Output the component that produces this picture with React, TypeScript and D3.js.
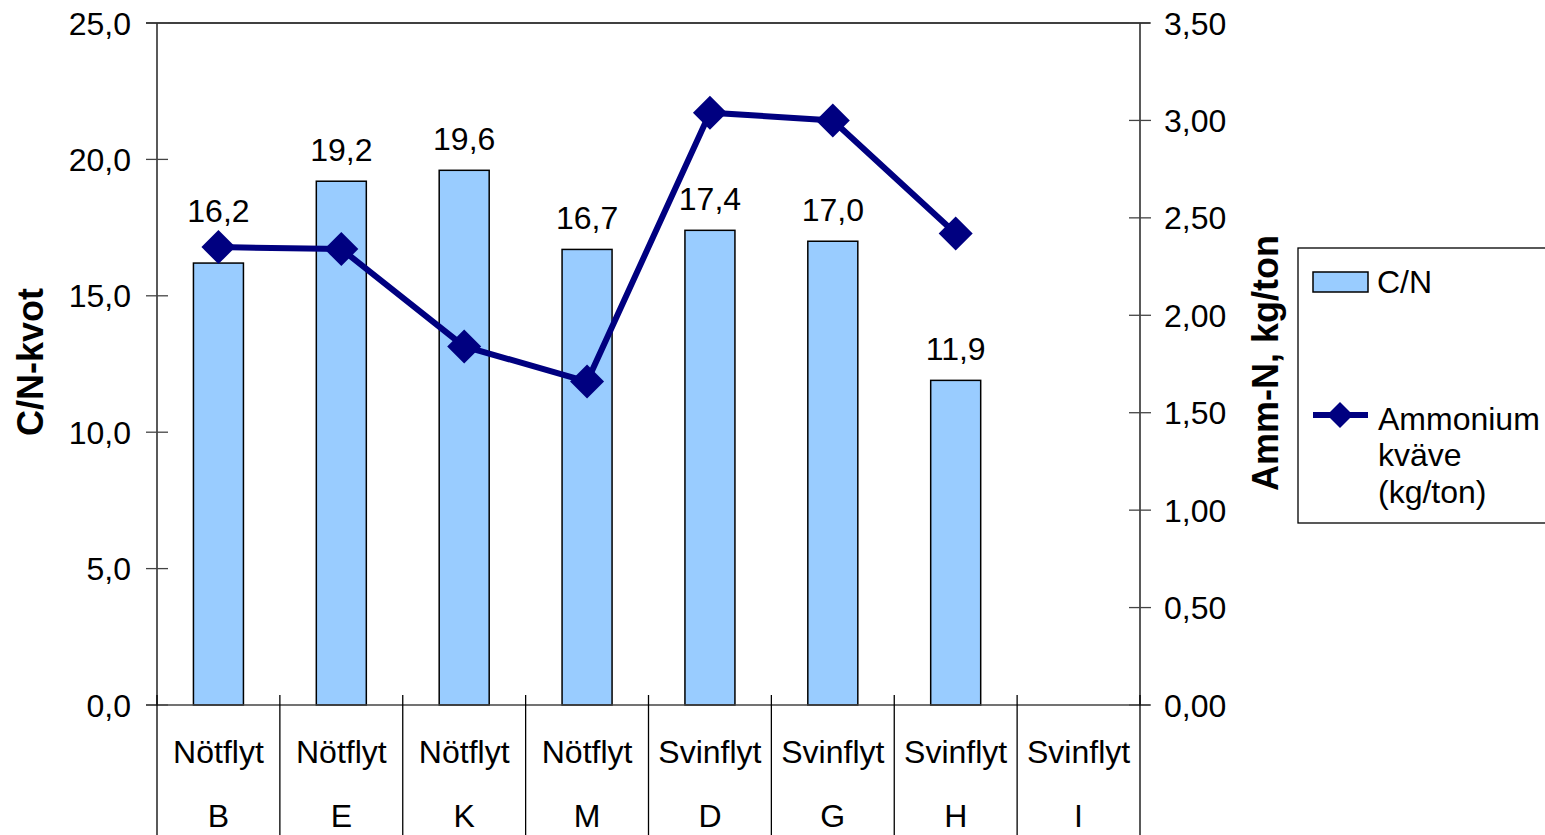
import React from 'react'
import * as d3 from 'd3'

// data
const types = ['Nötflyt', 'Nötflyt', 'Nötflyt', 'Nötflyt', 'Svinflyt', 'Svinflyt', 'Svinflyt', 'Svinflyt']
const letters = ['B', 'E', 'K', 'M', 'D', 'G', 'H', 'I']
const cnValues: (number | null)[] = [16.2, 19.2, 19.6, 16.7, 17.4, 17.0, 11.9, null]
const ammValues: (number | null)[] = [2.35, 2.34, 1.84, 1.66, 3.04, 3.0, 2.42, null]
const leftTicks = [0, 5, 10, 15, 20, 25]
const rightTicks = [0, 0.5, 1, 1.5, 2, 2.5, 3, 3.5]

const font = 'Liberation Sans, Arial, sans-serif'
const fs = 32

export default function App() {
  const width = 1545
  const height = 835
  const left = 157
  const right = 1140
  const top = 23
  const bottom = 705

  const x = d3.scaleBand<number>().domain(d3.range(letters.length)).range([left, right]).padding(0)
  const yL = d3.scaleLinear().domain([0, 25]).range([bottom, top])
  const yR = d3.scaleLinear().domain([0, 3.5]).range([bottom, top])
  const cx = (i: number) => (x(i) as number) + x.bandwidth() / 2
  const barW = 50
  const comma = (v: number, d: number) => v.toFixed(d).replace('.', ',')

  const line = d3
    .line<number | null>()
    .defined(d => d != null)
    .x((_, i) => cx(i))
    .y(d => yR(d as number))

  const diamond = (px: number, py: number, r: number) =>
    `M${px},${py - r}L${px + r},${py}L${px},${py + r}L${px - r},${py}Z`

  return (
    <svg width={width} height={height} style={{ display: 'block', position: 'absolute', left: 0, top: 0 }} fontFamily={font}>
      <rect width={width} height={height} fill="#fff" />

      {/* top border */}
      <line x1={146} x2={right + 10} y1={top} y2={top} stroke="#000" strokeWidth={1.3} />

      {/* bars */}
      {cnValues.map((v, i) =>
        v == null ? null : (
          <rect
            key={'b' + i}
            x={cx(i) - barW / 2}
            y={yL(v)}
            width={barW}
            height={yL(0) - yL(v)}
            fill="#99CCFF"
            stroke="#000"
            strokeWidth={1.5}
          />
        )
      )}

      {/* left axis */}
      <line x1={left} x2={left} y1={top} y2={bottom} stroke="#000" strokeWidth={1.3} />
      {leftTicks.map(t => (
        <g key={'lt' + t}>
          <line x1={146} x2={168} y1={yL(t)} y2={yL(t)} stroke="#444" strokeWidth={1.3} />
          <text x={131} y={yL(t)} dy="0.36em" textAnchor="end" fontSize={fs}>
            {comma(t, 1)}
          </text>
        </g>
      ))}

      {/* right axis */}
      <line x1={right} x2={right} y1={top} y2={bottom} stroke="#000" strokeWidth={1.3} />
      {rightTicks.map(t => (
        <g key={'rt' + t}>
          <line x1={right - 11} x2={right + 11} y1={yR(t)} y2={yR(t)} stroke="#444" strokeWidth={1.3} />
          <text x={1164} y={yR(t)} dy="0.36em" textAnchor="start" fontSize={fs}>
            {comma(t, 2)}
          </text>
        </g>
      ))}

      {/* category axis */}
      <line x1={146} x2={right + 10} y1={bottom} y2={bottom} stroke="#444" strokeWidth={1.3} />
      {d3.range(letters.length + 1).map(i => {
        const xx = i < letters.length ? (x(i) as number) : right
        return (
          <line key={'ct' + i} x1={xx} x2={xx} y1={bottom - 10} y2={height} stroke="#000" strokeWidth={1.3} />
        )
      })}
      {letters.map((l, i) => (
        <g key={'cl' + i}>
          <text x={cx(i)} y={763} textAnchor="middle" fontSize={fs}>
            {types[i]}
          </text>
          <text x={cx(i)} y={827} textAnchor="middle" fontSize={fs}>
            {l}
          </text>
        </g>
      ))}

      {/* ammonium line */}
      <path d={line(ammValues) ?? ''} fill="none" stroke="#000080" strokeWidth={6} />
      {ammValues.map((v, i) =>
        v == null ? null : <path key={'m' + i} d={diamond(cx(i), yR(v), 17)} fill="#000080" />
      )}

      {/* bar labels */}
      {cnValues.map((v, i) => {
        if (v == null) return null
        let base = yL(v) - 20
        const a = ammValues[i]
        if (a != null && Math.abs(yR(a) - yL(v)) < 40) base = Math.min(base, yR(a) - 25)
        return (
          <text key={'dl' + i} x={cx(i)} y={base} textAnchor="middle" fontSize={fs}>
            {comma(v, 1)}
          </text>
        )
      })}

      {/* axis titles */}
      <text transform={`translate(43,362) rotate(-90)`} textAnchor="middle" fontSize={36} fontWeight="bold">
        C/N-kvot
      </text>
      <text transform={`translate(1278,363) rotate(-90)`} textAnchor="middle" fontSize={36} fontWeight="bold">
        Amm-N, kg/ton
      </text>

      {/* legend */}
      <rect x={1298} y={248} width={260} height={275} fill="#fff" stroke="#000" strokeWidth={1.3} />
      <rect x={1313} y={272} width={55} height={20} fill="#99CCFF" stroke="#000" strokeWidth={1.5} />
      <text x={1377} y={293} fontSize={fs}>
        C/N
      </text>
      <line x1={1313} x2={1368} y1={415} y2={415} stroke="#000080" strokeWidth={6} />
      <path d={diamond(1340, 415, 13)} fill="#000080" />
      <text x={1378} y={430} fontSize={fs}>
        Ammonium
      </text>
      <text x={1378} y={466} fontSize={fs}>
        kväve
      </text>
      <text x={1378} y={503} fontSize={fs}>
        (kg/ton)
      </text>
    </svg>
  )
}
